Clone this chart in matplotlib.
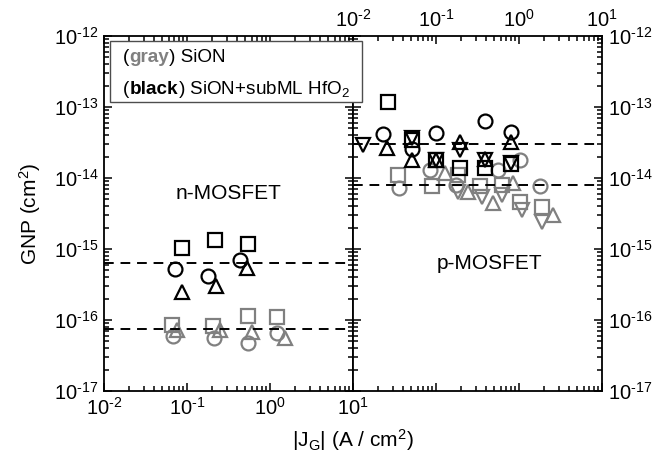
import matplotlib
matplotlib.use("Agg")
import matplotlib.pyplot as plt
import numpy as np
from matplotlib.patches import Rectangle
from matplotlib.ticker import FixedLocator, LogLocator, NullFormatter, FuncFormatter

# --------------------------
# DATA
# --------------------------
# n-MOSFET, black = SiON+subML HfO2
n_blk_sq_x = [0.086, 0.217, 0.538]
n_blk_sq_y = [1.02e-15, 1.34e-15, 1.16e-15]
n_blk_ci_x = [0.072, 0.181, 0.435]
n_blk_ci_y = [5.2e-16, 4.1e-16, 7.0e-16]
n_blk_tr_x = [0.086, 0.224, 0.523]
n_blk_tr_y = [2.5e-16, 3.0e-16, 5.35e-16]
# n-MOSFET, gray = SiON
n_gry_sq_x = [0.0655, 0.207, 0.538, 1.2]
n_gry_sq_y = [8.5e-17, 8.3e-17, 1.14e-16, 1.11e-16]
n_gry_ci_x = [0.068, 0.211, 0.55, 1.2]
n_gry_ci_y = [6.0e-17, 5.5e-17, 4.7e-17, 6.6e-17]
n_gry_tr_x = [0.075, 0.25, 0.60, 1.51]
n_gry_tr_y = [7.2e-17, 7.2e-17, 6.85e-17, 5.5e-17]
n_blk_avg = 6.4e-16
n_gry_avg = 7.4e-17

# p-MOSFET, black
p_blk_sq_x = [0.0266, 0.051, 0.101, 0.195, 0.39, 0.81]
p_blk_sq_y = [1.19e-13, 3.4e-14, 1.8e-14, 1.37e-14, 1.37e-14, 1.6e-14]
p_blk_ci_x = [0.0232, 0.051, 0.101, 0.39, 0.81]
p_blk_ci_y = [4.17e-14, 2.6e-14, 4.35e-14, 6.35e-14, 4.5e-14]
p_blk_tu_x = [0.0255, 0.051, 0.101, 0.195, 0.39, 0.81]
p_blk_tu_y = [2.62e-14, 1.8e-14, 1.8e-14, 3.25e-14, 1.85e-14, 3.25e-14]
p_blk_td_x = [0.0132, 0.051, 0.101, 0.195, 0.39, 0.81]
p_blk_td_y = [2.92e-14, 3.62e-14, 1.8e-14, 2.5e-14, 1.8e-14, 1.61e-14]
# p-MOSFET, gray
p_gry_sq_x = [0.0351, 0.0886, 0.186, 0.339, 0.62, 1.03, 1.88]
p_gry_sq_y = [1.1e-14, 7.7e-15, 1.1e-14, 7.7e-15, 8.0e-15, 4.6e-15, 3.9e-15]
p_gry_ci_x = [0.0361, 0.0846, 0.174, 0.563, 1.03, 1.79]
p_gry_ci_y = [7.3e-15, 1.3e-14, 8.0e-15, 1.3e-14, 1.8e-14, 7.7e-15]
p_gry_tu_x = [0.128, 0.245, 0.49, 0.853, 2.59]
p_gry_tu_y = [1.16e-14, 6.4e-15, 4.4e-15, 8.4e-15, 3.0e-15]
p_gry_td_x = [0.186, 0.355, 0.62, 1.08, 1.88]
p_gry_td_y = [6.4e-15, 5.45e-15, 5.8e-15, 3.5e-15, 2.4e-15]
p_blk_avg = 3.06e-14
p_gry_avg = 8.0e-15

X_TICKS = [1e-2, 1e-1, 1e0, 1e1]
Y_TICKS = [1e-17, 1e-16, 1e-15, 1e-14, 1e-13, 1e-12]

# --------------------------
# STYLE
# --------------------------
plt.rcParams['font.family'] = ['Liberation Sans', 'DejaVu Sans']
plt.rcParams['mathtext.fontset'] = 'custom'
plt.rcParams['mathtext.rm'] = 'Liberation Sans'
plt.rcParams['mathtext.it'] = 'Liberation Sans:italic'
plt.rcParams['mathtext.bf'] = 'Liberation Sans:bold'

GRAY = '0.5'
BLACK = 'black'
MS = 10
MEW = 1.6

W, H = 668, 455
fig = plt.figure(figsize=(W / 100, H / 100), dpi=100)

x0, xm, x1 = 104, 353, 602
ytop, ybot = 36, 391
ax_n = fig.add_axes([x0 / W, 1 - ybot / H, (xm - x0) / W, (ybot - ytop) / H])
ax_p = fig.add_axes([xm / W, 1 - ybot / H, (x1 - xm) / W, (ybot - ytop) / H])


def pts(ax, x, y, marker, color):
    ax.plot(x, y, linestyle='none', marker=marker, markersize=MS,
            markerfacecolor='none', markeredgecolor=color, markeredgewidth=MEW)


def dec_label(v, pos):
    e = int(round(np.log10(v)))
    if e < 0:
        return r'$10^{\text{-}%d}$' % (-e)
    return r'$10^{%d}$' % e


# n-MOSFET panel
pts(ax_n, n_gry_sq_x, n_gry_sq_y, 's', GRAY)
pts(ax_n, n_gry_ci_x, n_gry_ci_y, 'o', GRAY)
pts(ax_n, n_gry_tr_x, n_gry_tr_y, '^', GRAY)
pts(ax_n, n_blk_sq_x, n_blk_sq_y, 's', BLACK)
pts(ax_n, n_blk_ci_x, n_blk_ci_y, 'o', BLACK)
pts(ax_n, n_blk_tr_x, n_blk_tr_y, '^', BLACK)
ax_n.axhline(n_blk_avg, color='black', ls=(0, (5, 3.5)), lw=1.4)
ax_n.axhline(n_gry_avg, color='black', ls=(0, (5, 3.5)), lw=1.4)

# p-MOSFET panel
pts(ax_p, p_gry_sq_x, p_gry_sq_y, 's', GRAY)
pts(ax_p, p_gry_ci_x, p_gry_ci_y, 'o', GRAY)
pts(ax_p, p_gry_tu_x, p_gry_tu_y, '^', GRAY)
pts(ax_p, p_gry_td_x, p_gry_td_y, 'v', GRAY)
pts(ax_p, p_blk_sq_x, p_blk_sq_y, 's', BLACK)
pts(ax_p, p_blk_ci_x, p_blk_ci_y, 'o', BLACK)
pts(ax_p, p_blk_tu_x, p_blk_tu_y, '^', BLACK)
pts(ax_p, p_blk_td_x, p_blk_td_y, 'v', BLACK)
ax_p.axhline(p_blk_avg, color='black', ls=(0, (5, 3.5)), lw=1.4)
ax_p.axhline(p_gry_avg, color='black', ls=(0, (5, 3.5)), lw=1.4)

for ax in (ax_n, ax_p):
    ax.set_xscale('log')
    ax.set_yscale('log')
    ax.set_xlim(X_TICKS[0], X_TICKS[-1])
    ax.set_ylim(Y_TICKS[0], Y_TICKS[-1])
    ax.xaxis.set_major_locator(FixedLocator(X_TICKS))
    ax.yaxis.set_major_locator(FixedLocator(Y_TICKS))
    for axis in (ax.xaxis, ax.yaxis):
        axis.set_minor_locator(LogLocator(base=10, subs=range(2, 10), numticks=20))
        axis.set_minor_formatter(NullFormatter())
        axis.set_major_formatter(FuncFormatter(dec_label))
    ax.tick_params(which='both', direction='in', top=True, bottom=True,
                   left=True, right=True, labelsize=14.5, width=1.1, pad=4)
    ax.tick_params(which='major', length=6)
    ax.tick_params(which='minor', length=3.5)
    for s in ax.spines.values():
        s.set_linewidth(1.3)

ax_n.tick_params(labelleft=True, labelright=False, labelbottom=True, labeltop=False)
ax_p.tick_params(labelleft=False, labelright=True, labelbottom=False, labeltop=True)

ax_n.text(0.5, 0.557, 'n-MOSFET', transform=ax_n.transAxes, ha='center',
          va='center', fontsize=15)
ax_p.text(0.55, 0.36, 'p-MOSFET', transform=ax_p.transAxes, ha='center',
          va='center', fontsize=15)

fig.text(30 / W, 1 - 214 / H, 'GNP (cm$^2$)', rotation=90, ha='center',
         va='center', fontsize=15)
fig.text(xm / W, 1 - 440 / H, '|J$_\\mathrm{G}$| (A / cm$^2$)', ha='center',
         va='center', fontsize=15)

# --------------------------
# LABEL BOX
# --------------------------
fig.add_artist(Rectangle((110 / W, 1 - 102 / H), 252 / W, 61 / H,
                         transform=fig.transFigure, facecolor='white',
                         edgecolor='0.3', linewidth=1.0, zorder=10))

renderer = fig.canvas.get_renderer()


def multi_text(px, py, parts):
    for s, color, weight in parts:
        t = fig.text(px / W, 1 - py / H, s, color=color, fontweight=weight,
                     fontsize=13.6, va='baseline', ha='left', zorder=11)
        px += t.get_window_extent(renderer).width


multi_text(123, 62, [('(', 'black', 'normal'), ('gray', GRAY, 'bold'),
                     (') SiON', 'black', 'normal')])
multi_text(123, 94, [('(', 'black', 'normal'), ('black', 'black', 'bold'),
                     (') SiON+subML HfO$_2$', 'black', 'normal')])

fig.savefig('out.png', dpi=100)
